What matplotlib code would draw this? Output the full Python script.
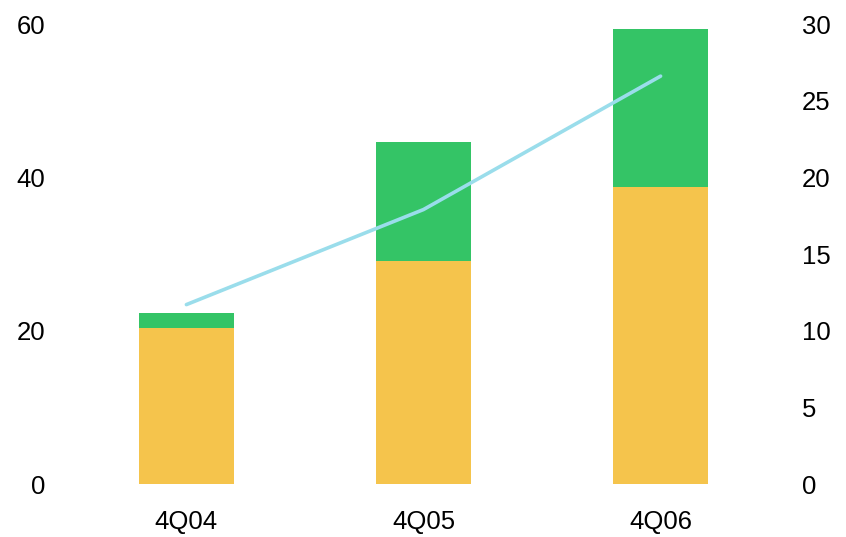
import matplotlib
matplotlib.use("Agg")
import matplotlib.pyplot as plt
import numpy as np

categories = ["4Q04", "4Q05", "4Q06"]
base_values = [20.3, 29.1, 38.7]
top_values = [2.0, 15.5, 20.6]
line_values = [11.7, 17.9, 26.6]
left_ticks = [0, 20, 40, 60]
right_ticks = [0, 5, 10, 15, 20, 25, 30]

plt.rcParams['font.family'] = ['Liberation Sans', 'DejaVu Sans']

fig = plt.figure(figsize=(8.46, 5.37), dpi=100)
ax = fig.add_axes([56/846, 53/537, (791-56)/846, (484-24)/537])
x = np.arange(len(categories))
ax.bar(x, base_values, width=0.4, color="#F5C44C", zorder=2)
ax.bar(x, top_values, width=0.4, bottom=base_values, color="#34C466", zorder=2)
ax.set_xlim(-0.55, 2.55)
ax.set_ylim(0, 60)
ax.set_yticks(left_ticks)
ax.set_xticks(x)
ax.set_xticklabels(categories)
for s in ax.spines.values():
    s.set_visible(False)
ax.tick_params(axis='y', length=0, pad=8, labelsize=18.5)
ax.tick_params(axis='x', length=0, pad=19, labelsize=18.5)

ax2 = ax.twinx()
ax2.plot(x, line_values, color="#9ADDEB", linewidth=2.6, solid_capstyle='round', zorder=3)
ax2.set_ylim(0, 30)
ax2.set_yticks(right_ticks)
for s in ax2.spines.values():
    s.set_visible(False)
ax2.tick_params(axis='y', length=0, pad=8, labelsize=18.5)

fig.savefig("out.png", dpi=100)
